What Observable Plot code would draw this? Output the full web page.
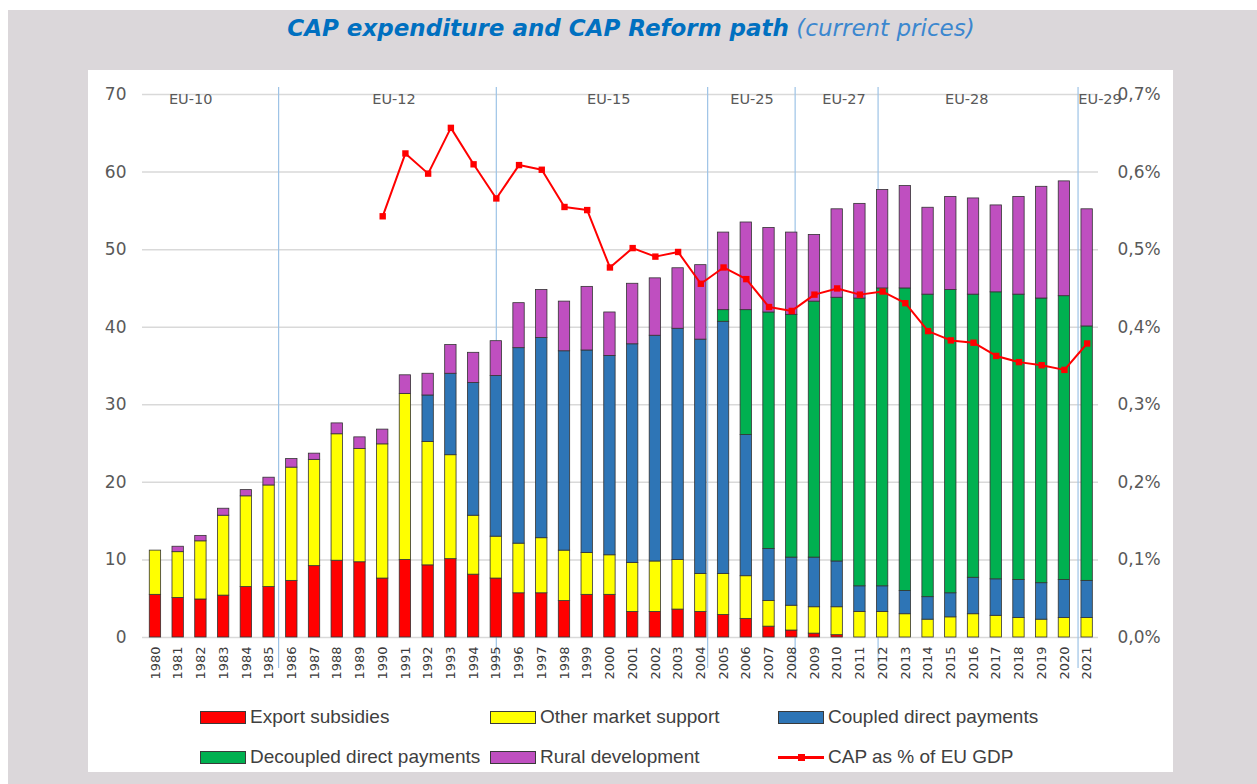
<!DOCTYPE html>
<html>
<head>
<meta charset="utf-8">
<script src="https://cdn.jsdelivr.net/npm/d3@7"></script>
<script src="https://cdn.jsdelivr.net/npm/@observablehq/plot@0.6"></script>
<style>
  html, body { margin: 0; padding: 0; background: #ffffff; width: 1257px; height: 784px; overflow: hidden; }
  #bg { position: absolute; left: 8px; top: 10px; width: 1249px; height: 774px; background: #dbd7da; }
  #title { position: absolute; left: 0; top: 13px; width: 1262px; text-align: center; font-family: "DejaVu Sans", sans-serif; font-size: 23px; white-space: nowrap; line-height: 30px; }
  #title .b { font-weight: bold; font-style: italic; color: #0070c0; }
  #title .n { font-style: italic; color: #3b87cf; }
  #panel { position: absolute; left: 88px; top: 70px; width: 1085px; height: 702px; background: #ffffff; }
  #chart { position: absolute; left: 0; top: 0; }
  .lg { position: absolute; font-family: "Liberation Sans", Arial, sans-serif; font-size: 19px; color: #404040; white-space: nowrap; line-height: 20px; }
  .sw { position: absolute; width: 44px; height: 11px; border: 1px solid #3a3a3a; }
  .ln { position: absolute; width: 46px; height: 3px; background: #ff0000; }
  .mk { position: absolute; width: 7px; height: 7px; background: #ff0000; }
</style>
</head>
<body>
<div id="bg"></div>
<div id="title"><span class="b">CAP expenditure and CAP Reform path</span> <span class="n">(current prices)</span></div>
<div id="panel"><div id="chart"></div></div>
<div id="legend"></div>
<script>
// ---- Data (billion EUR, current prices) ----
const years = d3.range(1980, 2022);
const exportSubsidies = [5.5,5.1,4.9,5.4,6.5,6.5,7.3,9.2,9.9,9.7,7.6,10.0,9.3,10.1,8.1,7.6,5.7,5.7,4.7,5.5,5.5,3.3,3.3,3.6,3.3,2.9,2.4,1.4,0.9,0.5,0.3,0,0,0,0,0,0,0,0,0,0,0];
const otherMarketSupport = [5.7,5.9,7.5,10.3,11.7,13.1,14.6,13.7,16.3,14.6,17.3,21.4,15.9,13.4,7.6,5.4,6.4,7.1,6.5,5.4,5.1,6.3,6.5,6.4,4.9,5.3,5.5,3.3,3.2,3.4,3.6,3.3,3.3,3.0,2.3,2.6,3.0,2.8,2.5,2.3,2.5,2.5];
const coupledDirectPayments = [0,0,0,0,0,0,0,0,0,0,0,0,6.0,10.5,17.1,20.7,25.2,25.8,25.7,26.1,25.7,28.2,29.1,29.8,30.2,32.5,18.2,6.7,6.2,6.4,5.9,3.3,3.3,3.0,2.9,3.1,4.7,4.7,4.9,4.7,4.9,4.8];
const decoupledDirectPayments = [0,0,0,0,0,0,0,0,0,0,0,0,0,0,0,0,0,0,0,0,0,0,0,0,0,1.5,16.1,30.5,31.3,33.0,34.0,37.1,38.4,39.0,39.0,39.1,36.5,37.0,36.8,36.7,36.6,32.8];
const ruralDevelopment = [0,0.7,0.7,0.9,0.8,1.0,1.1,0.8,1.4,1.5,1.9,2.4,2.8,3.7,3.9,4.5,5.8,6.2,6.4,8.2,5.6,7.8,7.4,7.8,9.6,10.0,11.3,10.9,10.6,8.6,11.4,12.2,12.7,13.2,11.2,12.0,12.4,11.2,12.6,14.4,14.8,15.1];

// CAP as % of EU GDP (1990-2021)
const gdpYears = d3.range(1990, 2022);
const capShareGDP = [0.543,0.624,0.598,0.657,0.610,0.566,0.609,0.603,0.555,0.551,0.477,0.502,0.491,0.497,0.456,0.477,0.462,0.426,0.421,0.442,0.450,0.442,0.446,0.431,0.395,0.383,0.380,0.363,0.355,0.351,0.345,0.379];

// Enlargement periods
const enlargementBreaks = [1985.42, 1995.0, 2004.3, 2008.15, 2011.8, 2020.6];
const enlargementLabels = ["EU-10","EU-12","EU-15","EU-25","EU-27","EU-28","EU-29"];
const enlargementLabelYears = [1981.55, 1990.5, 1999.95, 2006.25, 2010.3, 2015.7, 2021.57];

const yTicks = [0,10,20,30,40,50,60,70];

const seriesNames = ["Export subsidies","Other market support","Coupled direct payments","Decoupled direct payments","Rural development"];
const seriesValues = [exportSubsidies, otherMarketSupport, coupledDirectPayments, decoupledDirectPayments, ruralDevelopment];
const seriesColors = ["#ff0000","#ffff00","#2e75b6","#00b050","#bf4fc0"];
const lineName = "CAP as % of EU GDP";

// ---- Build stacked table ----
const stacked = [];
years.forEach((yr, i) => {
  let base = 0;
  seriesNames.forEach((s, k) => {
    const v = seriesValues[k][i];
    if (v > 0) stacked.push({year: yr, series: s, y1: base, y2: base + v});
    base += v;
  });
});
const lineData = gdpYears.map((yr, i) => ({year: yr, pct: capShareGDP[i]}));
const sepData = enlargementBreaks.map(x => ({x}));
const euData = enlargementLabels.map((t, i) => ({label: t, year: enlargementLabelYears[i]}));

const fmtPct = d => (d / 100).toFixed(1).replace(".", ",") + "%";

const chart = Plot.plot({
  width: 1085,
  height: 630,
  marginLeft: 54,
  marginRight: 75,
  marginTop: 24,
  marginBottom: 63,
  style: {background: "transparent", fontFamily: "'DejaVu Sans', sans-serif"},
  x: {type: "linear", domain: [1979.43, 2021.5]},
  y: {domain: [0, 70]},
  color: {domain: seriesNames, range: seriesColors},
  marks: [
    Plot.gridY(yTicks, {stroke: "#d9d9d9", strokeOpacity: 1, strokeWidth: 1.5}),
    Plot.ruleX(sepData, {x: "x", y1: 70.9, y2: -4, stroke: "#9dc3e6", strokeWidth: 1.2}),
    Plot.rectY(stacked, {
      x1: d => d.year - 0.25, x2: d => d.year + 0.25,
      y1: "y1", y2: "y2", fill: "series", stroke: "#333333", strokeWidth: 0.8
    }),
    Plot.line(lineData, {x: "year", y: d => d.pct * 100, stroke: "#ff0000", strokeWidth: 2}),
    Plot.dot(lineData, {x: "year", y: d => d.pct * 100, symbol: "square", r: 3.6, fill: "#ff0000", stroke: "none"}),
    Plot.text(euData, {x: "year", y: 69.35, text: "label", fontSize: 14.5, fill: "#595959"}),
    Plot.axisY({anchor: "left", ticks: yTicks, tickSize: 0, tickPadding: 16, fontSize: 17, fill: "#595959", label: null}),
    Plot.axisY({anchor: "right", ticks: yTicks, tickSize: 0, tickPadding: 19, fontSize: 17, fill: "#595959", tickFormat: fmtPct, label: null}),
    Plot.axisX({ticks: years, tickFormat: d => String(d), tickRotate: -90, tickSize: 0, tickPadding: 9, fontSize: 13, fill: "#3a3a3a", label: null})
  ]
});
document.getElementById("chart").appendChild(chart);

// ---- Legend (HTML) ----
const legend = document.getElementById("legend");
const legendItems = [
  {name: seriesNames[0], color: seriesColors[0]},
  {name: seriesNames[1], color: seriesColors[1]},
  {name: seriesNames[2], color: seriesColors[2]},
  {name: seriesNames[3], color: seriesColors[3]},
  {name: seriesNames[4], color: seriesColors[4]},
  {name: lineName, line: true}
];
const colsX = [200, 490, 778];
const rowsY = [717, 757];
legendItems.forEach((it, i) => {
  const cx = colsX[i % 3], cy = rowsY[Math.floor(i / 3)];
  if (it.line) {
    const l = document.createElement("div"); l.className = "ln";
    l.style.left = cx + "px"; l.style.top = (cy - 1.5) + "px"; legend.appendChild(l);
    const m = document.createElement("div"); m.className = "mk";
    m.style.left = (cx + 19.5) + "px"; m.style.top = (cy - 3.5) + "px"; legend.appendChild(m);
  } else {
    const s = document.createElement("div"); s.className = "sw";
    s.style.left = cx + "px"; s.style.top = (cy - 6.5) + "px"; s.style.background = it.color;
    legend.appendChild(s);
  }
  const t = document.createElement("div"); t.className = "lg";
  t.textContent = it.name;
  t.style.left = (cx + 50) + "px"; t.style.top = (cy - 10) + "px";
  legend.appendChild(t);
});
</script>
</body>
</html>
